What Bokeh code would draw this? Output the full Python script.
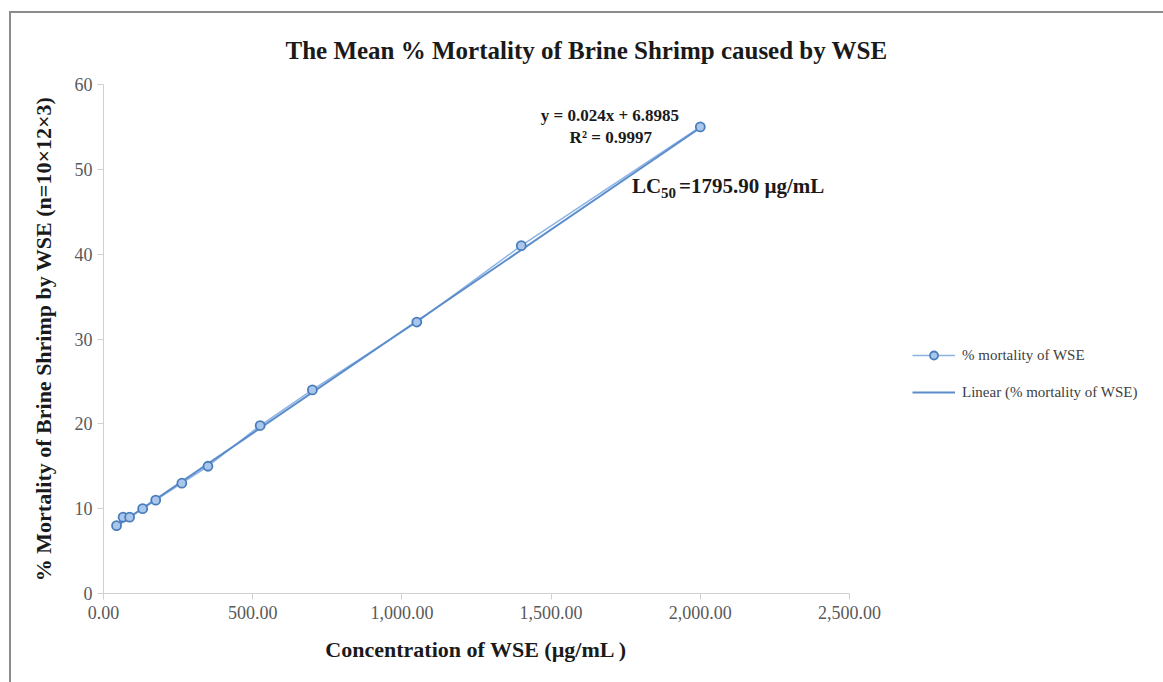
from bokeh.plotting import figure
from bokeh.models import (Range1d, Legend, LegendItem, Label, NumeralTickFormatter,
                          FixedTicker, ColumnDataSource)
from bokeh.embed import file_html
from bokeh.resources import INLINE

# ---- data ----
concentration = [43.75, 65.63, 87.5, 131.25, 175.0, 262.5, 350.0, 525.0, 700.0, 1050.0, 1400.0, 2000.0]
mortality = [8, 9, 9, 10, 11, 13, 15, 19.8, 24, 32, 41, 55]
slope = 0.024
intercept = 6.8985
r_squared = 0.9997
lc50 = 1795.90
x_ticks = [0, 500, 1000, 1500, 2000, 2500]
y_ticks = [0, 10, 20, 30, 40, 50, 60]

title_text = "The Mean % Mortality of Brine Shrimp caused by WSE"
x_label = "Concentration of WSE (µg/mL )"
y_label = "% Mortality of Brine Shrimp by WSE (n=10×12×3)"
series_name = "% mortality of WSE"
trend_name = "Linear (% mortality of WSE)"

SERIF = "Liberation Serif"
TXT = "#1a1a1a"

p = figure(frame_width=746, frame_height=509, output_backend="svg", toolbar_location=None,
           x_range=Range1d(0, 2500), y_range=Range1d(0, 60),
           min_border_left=92, min_border_right=314, min_border_top=71, min_border_bottom=89,
           styles={"border-left": "2px solid #8c8c8c", "border-top": "2px solid #8c8c8c",
                   "margin-left": "9px", "margin-top": "11px"})
p.outline_line_color = None
p.grid.visible = False
p.background_fill_color = "white"
p.border_fill_color = "white"

p.title.text = title_text
p.title.align = "left"
p.title.offset = 182
p.title.standoff = 42
p.title.text_font = SERIF
p.title.text_font_size = "25px"
p.title.text_font_style = "bold"
p.title.text_color = TXT

for ax in (p.xaxis[0], p.yaxis[0]):
    ax.axis_line_color = "#d0d0d0"
    ax.major_tick_line_color = "#d0d0d0"
    ax.minor_tick_line_color = None
    ax.major_tick_in = 0
    ax.major_tick_out = 6
    ax.major_label_text_font = SERIF
    ax.major_label_text_font_size = "18px"
    ax.major_label_text_color = "#595959"
    ax.axis_label_text_font = SERIF
    ax.axis_label_text_font_size = "22px"
    ax.axis_label_text_font_style = "bold"
    ax.axis_label_text_color = TXT

p.xaxis.ticker = FixedTicker(ticks=x_ticks)
p.yaxis.ticker = FixedTicker(ticks=y_ticks)
p.xaxis.formatter = NumeralTickFormatter(format="0,0.00")
p.xaxis.axis_label = x_label
p.yaxis.axis_label = y_label
p.xaxis.major_label_standoff = 6
p.yaxis.major_label_standoff = 5
p.xaxis.axis_label_standoff = 15
p.yaxis.axis_label_standoff = 16

src = ColumnDataSource(dict(x=concentration, y=mortality))
line_r = p.line("x", "y", source=src, line_color="#8db3e2", line_width=1.5)
trend_x = [min(concentration), max(concentration)]
trend_y = [slope * v + intercept for v in trend_x]
trend_r = p.line(trend_x, trend_y, line_color="#5b8ccc", line_width=2)
scatter_r = p.scatter("x", "y", source=src, size=9, marker="circle",
                      fill_color="#a9c6ec", line_color="#4a7ebb", line_width=1.8)

eq_text = f"y = {slope}x + {intercept}"
r2_text = f"R² = {r_squared}"
p.add_layout(Label(x=1697, y=56.3, text=eq_text, text_align="center", text_baseline="middle",
                   text_font=SERIF, text_font_size="17px", text_font_style="bold", text_color=TXT))
p.add_layout(Label(x=1700, y=53.75, text=r2_text, text_align="center", text_baseline="middle",
                   text_font=SERIF, text_font_size="17px", text_font_style="bold", text_color=TXT))
# LC50 annotation (subscript drawn as a separate smaller text)
p.add_layout(Label(x=1771, y=48.0, text="LC", text_align="left", text_baseline="middle",
                   text_font=SERIF, text_font_size="21px", text_font_style="bold", text_color=TXT))
p.add_layout(Label(x=1771, y=48.0, x_offset=29, y_offset=-7, text="50", text_align="left",
                   text_baseline="middle", text_font=SERIF, text_font_size="15px",
                   text_font_style="bold", text_color=TXT))
p.add_layout(Label(x=1771, y=48.0, x_offset=47, text=f"={lc50:.2f} µg/mL", text_align="left",
                   text_baseline="middle", text_font=SERIF, text_font_size="21px",
                   text_font_style="bold", text_color=TXT))

legend = Legend(items=[LegendItem(label=series_name, renderers=[line_r, scatter_r]),
                       LegendItem(label=trend_name, renderers=[trend_r])],
                location=(63, 191), glyph_width=43, glyph_height=20, label_height=20,
                label_standoff=7, spacing=17, padding=0, margin=0,
                border_line_color=None, background_fill_alpha=0,
                label_text_font=SERIF, label_text_font_size="15px", label_text_color="#404040")
p.add_layout(legend, "right")

open("out.html", "w").write(file_html(p, INLINE))
